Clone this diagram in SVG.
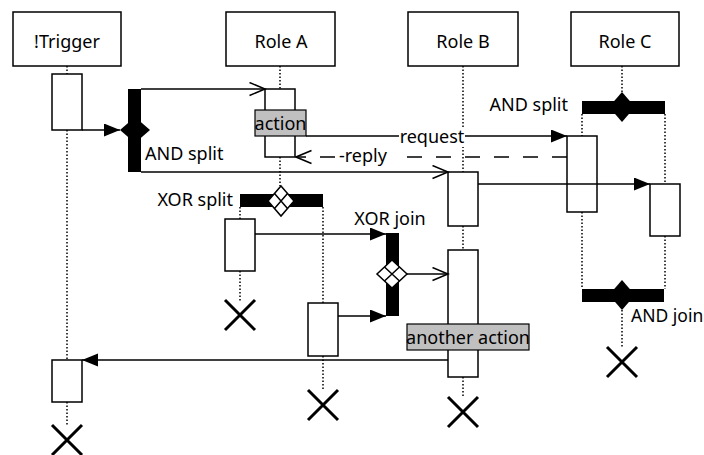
<svg xmlns="http://www.w3.org/2000/svg" width="704" height="455" viewBox="0 0 704 455">
<style>
.box{fill:#fff;stroke:#000;stroke-width:1.5}
.act{fill:#fff;stroke:#000;stroke-width:1.5}
.lbl{fill:#c0c0c0;stroke:#000;stroke-width:1.2}
.life{stroke:#000;stroke-width:1.5;stroke-dasharray:1.5 2;fill:none}
.msg{stroke:#000;stroke-width:1.5;fill:none}
.dash{stroke-dasharray:15 14}
.bar{fill:#000}
.xd{fill:#fff;stroke:#000;stroke-width:1.5}
.end{stroke:#000;stroke-width:3;fill:none}
text{font-family:"Noto Sans","Open Sans",sans-serif;font-size:18px;fill:#000}
.c{text-anchor:middle}
.e{text-anchor:end}
.bg{fill:#fff}
</style>
<defs>
<marker id="fa" markerUnits="userSpaceOnUse" markerWidth="17" markerHeight="14" refX="16" refY="6.5" orient="auto"><path d="M0,0 L16,6.5 L0,13 z" fill="#000"/></marker>
<marker id="oa" markerUnits="userSpaceOnUse" markerWidth="18" markerHeight="16" refX="16.5" refY="7.5" orient="auto"><path d="M1,1 L16.5,7.5 L1,14" fill="none" stroke="#000" stroke-width="1.5"/></marker>
</defs>
<rect width="704" height="455" fill="#fff"/>
<g id="lifelines">
<path class="life" d="M67,66V74M67,130V360M67,402V425"/>
<path class="life" d="M280,66V89M280,157V186"/>
<path class="life" d="M240,207V219M240,271V302"/>
<path class="life" d="M323,207V303M323,356V390"/>
<path class="life" d="M463,66V172M463,226V250M463,377V397"/>
<path class="life" d="M622,66V93"/>
<path class="life" d="M582,114V136M582,212V289"/>
<path class="life" d="M665,114V184M665,236V289"/>
<path class="life" d="M622,310V347"/>
</g>
<g id="trigger"><rect class="box" x="13" y="12" width="108" height="54"/><text class="c" x="67" y="48">!Trigger</text></g>
<g id="roleA"><rect class="box" x="226" y="12" width="109" height="54"/><text class="c" x="281" y="48">Role A</text></g>
<g id="roleB"><rect class="box" x="408" y="12" width="110" height="54"/><text class="c" x="463" y="48">Role B</text></g>
<g id="roleC"><rect class="box" x="571" y="12" width="108" height="54"/><text class="c" x="625" y="48">Role C</text></g>
<g id="activations">
<rect class="act" x="52" y="74" width="30" height="56"/>
<rect class="act" x="52" y="360" width="30" height="42"/>
<rect class="act" x="265" y="89" width="30" height="68"/>
<rect class="act" x="225" y="219" width="30" height="52"/>
<rect class="act" x="308" y="303" width="30" height="53"/>
<rect class="act" x="448" y="172" width="30" height="54"/>
<rect class="act" x="448" y="250" width="30" height="127"/>
<rect class="act" x="567" y="136" width="30" height="76"/>
<rect class="act" x="650" y="184" width="30" height="52"/>
</g>
<g id="connectors">
<path class="msg" d="M82,130H120" marker-end="url(#fa)"/>
<path class="msg" d="M141,89H265" marker-end="url(#oa)"/>
<path class="msg" d="M141,172H448" marker-end="url(#oa)"/>
<path class="msg" d="M306,136H567" marker-end="url(#fa)"/>
<path class="msg dash" d="M567,157H296" marker-end="url(#oa)"/>
<path class="msg" d="M478,184H650" marker-end="url(#fa)"/>
<path class="msg" d="M255,234H386" marker-end="url(#fa)"/>
<path class="msg" d="M338,316H386" marker-end="url(#fa)"/>
<path class="msg" d="M407,274H448" marker-end="url(#oa)"/>
<path class="msg" d="M448,360H82" marker-end="url(#fa)"/>
<rect class="bg" x="399" y="128" width="66" height="19"/>
<text class="c" x="432" y="143">request</text>
<rect class="bg" x="336" y="148" width="58" height="17"/>
<text x="339" y="162">-reply</text>
</g>
<g id="andSplitLeft">
<rect class="bar" x="128" y="89" width="13" height="83"/>
<path class="bar" d="M135,117L150,130L135,143L120,130z"/>
<text x="145" y="160">AND split</text>
</g>
<g id="andSplitC">
<rect class="bar" x="582" y="101" width="83" height="13"/>
<path class="bar" d="M622,92L635,107L622,122L609,107z"/>
<text class="e" x="568" y="111">AND split</text>
</g>
<g id="andJoinC">
<rect class="bar" x="582" y="289" width="82" height="13"/>
<path class="bar" d="M622,280L635,295L622,310L609,295z"/>
<text x="631" y="322" style="font-size:17.5px">AND join</text>
</g>
<g id="xorSplit">
<rect class="bar" x="240" y="194" width="83" height="13"/>
<path class="xd" d="M281,186L294,201L281,216L268,201z"/>
<path class="msg" d="M287.5,193.5L274.5,208.5M274.5,193.5L287.5,208.5"/>
<text class="e" x="233" y="206">XOR split</text>
</g>
<g id="xorJoin">
<rect class="bar" x="386" y="233" width="13" height="83"/>
<path class="xd" d="M392,260L407,274L392,288L377,274z"/>
<path class="msg" d="M399.5,267L384.5,281M384.5,267L399.5,281"/>
<text class="c" x="390" y="225">XOR join</text>
</g>
<g id="actionLabel">
<rect class="lbl" x="255" y="110" width="51" height="26"/>
<text class="c" x="280.5" y="130">action</text>
</g>
<g id="anotherActionLabel">
<rect class="lbl" x="407" y="324" width="122" height="26"/>
<text class="c" x="468" y="344">another action</text>
</g>
<g id="ends">
<path class="end" d="M225,300L255,330M255,300L225,330"/>
<path class="end" d="M308,390L338,420M338,390L308,420"/>
<path class="end" d="M448,397L478,427M478,397L448,427"/>
<path class="end" d="M607,347L637,377M637,347L607,377"/>
<path class="end" d="M52,425L82,455M82,425L52,455"/>
</g>
</svg>
